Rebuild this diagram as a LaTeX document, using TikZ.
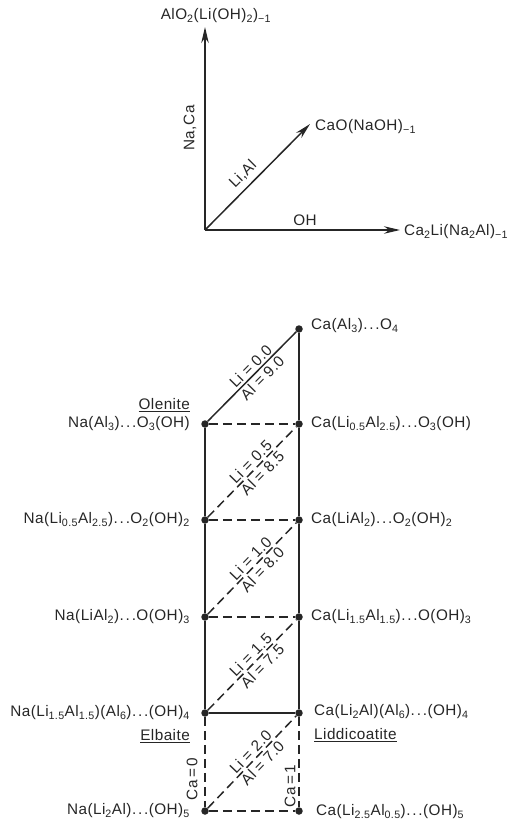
\documentclass[tikz,border=0pt]{standalone}
\usepackage{fontspec}
\setmainfont[LetterSpace=3]{Liberation Sans}
\usetikzlibrary{arrows.meta}

\newcommand{\sbs}[1]{\textsubscript{#1}}
\newcommand{\gap}{.\kern1.8pt.\kern1.8pt.}

\begin{document}
\begin{tikzpicture}[x=1pt, y=-1pt,
  font=\fontsize{15.3}{17}\selectfont,
  solidline/.style={line width=1.5pt, black!85},
  dashline/.style={line width=1.5pt, black!85, dash pattern=on 9pt off 5pt},
  vertex/.style={circle, fill=black!85, inner sep=0pt, minimum size=7.5pt},
  axis/.style={line width=1.5pt, black!85, -{Stealth[length=16pt,width=7.5pt]}},
  lab/.style={inner sep=0pt, text=black!85},
  diag/.style={sloped, inner sep=2.4pt, pos=.55, text=black!85}]
\useasboundingbox (0,0) rectangle (510,822);

% ---- composition vectors ----
\coordinate (O) at (205,230);
\coordinate (tipV) at (205,27);
\coordinate (tipD) at (310,124);
\coordinate (tipH) at (400,230);
\draw[axis] (O) -- (tipV);
\draw[axis] (O) -- (tipD);
\draw[axis] (O) -- (tipH);
\node[lab] (lv) at (216,16) {AlO\sbs{2}(Li(OH)\sbs{2})\sbs{−1}};
\node[lab, anchor=west] (ld) at (315,127) {CaO(NaOH)\sbs{−1}};
\node[lab, anchor=west] (lh) at (404,232) {Ca\sbs{2}Li(Na\sbs{2}Al)\sbs{−1}};
\node[lab, rotate=90] (lnaca) at (190,128) {Na,Ca};
\node[lab, rotate=45] (llial) at (243,174) {Li,Al};
\node[lab] (loh) at (305,220) {OH};

% ---- end-member grid ----
\node[vertex] (c0) at (299,329) {};
\node[vertex] (n1) at (205,424) {};
\node[vertex] (c1) at (299,424) {};
\node[vertex] (n2) at (205,520) {};
\node[vertex] (c2) at (299,520) {};
\node[vertex] (n3) at (205,617) {};
\node[vertex] (c3) at (299,617) {};
\node[vertex] (n4) at (205,713) {};
\node[vertex] (c4) at (299,713) {};
\node[vertex] (n5) at (205,811) {};
\node[vertex] (c5) at (299,811) {};

\draw[solidline] (n1) -- (c0);
\draw[solidline] (c0) -- (c1) -- (c2) -- (c3) -- (c4);
\draw[solidline] (n1) -- (n2) -- (n3) -- (n4);
\draw[solidline] (n4) -- (c4);
\draw[dashline] (n1) -- (c1);
\draw[dashline] (n2) -- (c2);
\draw[dashline] (n3) -- (c3);
\draw[dashline] (n5) -- (c5);
\draw[dashline] (n4) -- (n5);
\draw[dashline] (c4) -- (c5);
\draw[dashline] (n2) -- (c1);
\draw[dashline] (n3) -- (c2);
\draw[dashline] (n4) -- (c3);
\draw[dashline] (n5) -- (c4);

% Li / Al contents along the diagonals
\path (n1) -- (c0) node[diag, above] {Li = 0.0} node[diag, below] {Al = 9.0};
\path (n2) -- (c1) node[diag, above] {Li = 0.5} node[diag, below] {Al = 8.5};
\path (n3) -- (c2) node[diag, above] {Li = 1.0} node[diag, below] {Al = 8.0};
\path (n4) -- (c3) node[diag, above] {Li = 1.5} node[diag, below] {Al = 7.5};
\path (n5) -- (c4) node[diag, above] {Li = 2.0} node[diag, below] {Al = 7.0};

% Na end members
\node[lab, anchor=east] (tn1) at (190,424) {Na(Al\sbs{3})\gap O\sbs{3}(OH)};
\node[lab, anchor=east] (olen) at (190,405) {\underline{Olenite}};
\node[lab, anchor=east] (tn2) at (190,520) {Na(Li\sbs{0.5}Al\sbs{2.5})\gap O\sbs{2}(OH)\sbs{2}};
\node[lab, anchor=east] (tn3) at (190,617) {Na(LiAl\sbs{2})\gap O(OH)\sbs{3}};
\node[lab, anchor=east] (tn4) at (190,713) {Na(Li\sbs{1.5}Al\sbs{1.5})(Al\sbs{6})\gap(OH)\sbs{4}};
\node[lab, anchor=east] (elb) at (190,736) {\underline{Elbaite}};
\node[lab, anchor=east] (tn5) at (190,811) {Na(Li\sbs{2}Al)\gap(OH)\sbs{5}};

% Ca end members
\node[lab, anchor=west] (tc0) at (311,326) {Ca(Al\sbs{3})\gap O\sbs{4}};
\node[lab, anchor=west] (tc1) at (311,424) {Ca(Li\sbs{0.5}Al\sbs{2.5})\gap O\sbs{3}(OH)};
\node[lab, anchor=west] (tc2) at (311,520) {Ca(LiAl\sbs{2})\gap O\sbs{2}(OH)\sbs{2}};
\node[lab, anchor=west] (tc3) at (311,617) {Ca(Li\sbs{1.5}Al\sbs{1.5})\gap O(OH)\sbs{3}};
\node[lab, anchor=west] (tc4) at (314,712) {Ca(Li\sbs{2}Al)(Al\sbs{6})\gap(OH)\sbs{4}};
\node[lab, anchor=west] (lidd) at (314,735) {\underline{Liddicoatite}};
\node[lab, anchor=west] (tc5) at (316,812) {Ca(Li\sbs{2.5}Al\sbs{0.5})\gap(OH)\sbs{5}};

\node[lab, rotate=90] (ca0) at (192,779) {Ca\,=\,0};
\node[lab, rotate=90] (ca1) at (290,786) {Ca\,=\,1};
\end{tikzpicture}
\end{document}
